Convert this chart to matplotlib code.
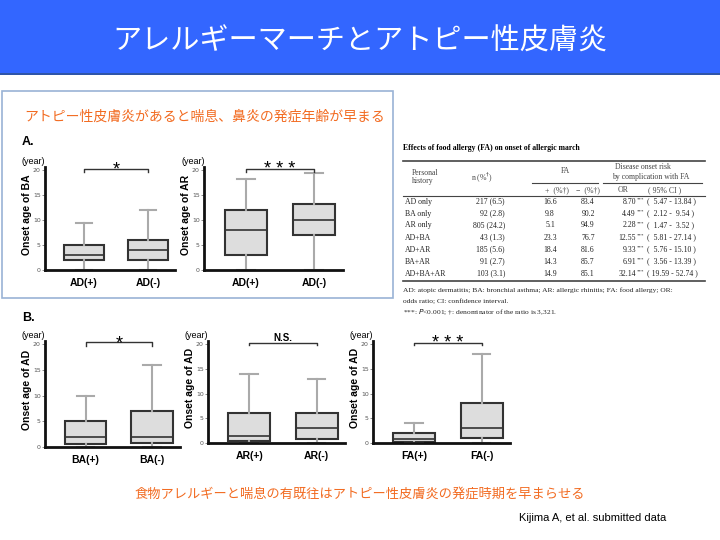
import matplotlib
matplotlib.use("Agg")
import matplotlib.pyplot as plt
from matplotlib.patches import Rectangle
from matplotlib.lines import Line2D

W, H = 720, 540
JP = ['Noto Sans CJK JP', 'DejaVu Sans']
SANS = ['Liberation Sans', 'DejaVu Sans']
SERIF = ['Liberation Serif', 'DejaVu Serif']
ORANGE = '#F26B21'

# ---- data ----
title = 'アレルギーマーチとアトピー性皮膚炎'
subtitle = 'アトピー性皮膚炎があると喘息、鼻炎の発症年齢が早まる'
conclusion = '食物アレルギーと喘息の有既往はアトピー性皮膚炎の発症時期を早まらせる'
credit = 'Kijima A, et al. submitted data'

# box stats: low whisker, q1, median, q3, high whisker
ba_labels = ['AD(+)', 'AD(-)']
ba_low = [0, 0]
ba_q1 = [2, 2]
ba_med = [3, 4]
ba_q3 = [5, 6]
ba_high = [9.5, 12]

ar_labels = ['AD(+)', 'AD(-)']
ar_low = [0, 0]
ar_q1 = [3, 7]
ar_med = [8, 10]
ar_q3 = [12, 13.2]
ar_high = [18.2, 19.4]

adba_labels = ['BA(+)', 'BA(-)']
adba_low = [0, 0]
adba_q1 = [0.5, 0.7]
adba_med = [2, 2]
adba_q3 = [5, 7]
adba_high = [10, 16]

adar_labels = ['AR(+)', 'AR(-)']
adar_low = [0, 0]
adar_q1 = [0.5, 0.8]
adar_med = [1.5, 3]
adar_q3 = [6, 6]
adar_high = [14, 13]

adfa_labels = ['FA(+)', 'FA(-)']
adfa_low = [0, 0]
adfa_q1 = [0.2, 1]
adfa_med = [0.8, 3]
adfa_q3 = [2, 8]
adfa_high = [4, 18]

# table
tbl_history = ['AD only', 'BA only', 'AR only', 'AD+BA', 'AD+AR', 'BA+AR', 'AD+BA+AR']
tbl_n = ['217 (6.5)', '92 (2.8)', '805 (24.2)', '43 (1.3)', '185 (5.6)', '91 (2.7)', '103 (3.1)']
tbl_fa_pos = [16.6, 9.8, 5.1, 23.3, 18.4, 14.3, 14.9]
tbl_fa_neg = [83.4, 90.2, 94.9, 76.7, 81.6, 85.7, 85.1]
tbl_or = [8.70, 4.49, 2.28, 12.55, 9.33, 6.91, 32.14]
tbl_ci_lo = [5.47, 2.12, 1.47, 5.81, 5.76, 3.56, 19.59]
tbl_ci_hi = [13.84, 9.54, 3.52, 27.14, 15.10, 13.39, 52.74]


def fx(x):
    return x / W


def fy(y):
    return 1 - y / H


fig = plt.figure(figsize=(7.2, 5.4), dpi=100)


def text(x, y, s, **kw):
    fig.text(fx(x), fy(y), s, **kw)


def hline(x0, x1, y, lw=0.8, color='#444444'):
    fig.add_artist(Line2D([fx(x0), fx(x1)], [fy(y), fy(y)], lw=lw, color=color))


# title bar
fig.add_artist(Rectangle((0, fy(73)), 1, 73 / H, color='#3366FF', lw=0))
fig.add_artist(Rectangle((0, fy(75)), 1, 2 / H, color='#2F55A8', lw=0))
text(360, 42, title, ha='center', va='center', color='white', fontsize=21, family=JP)

# frame around section A
fig.add_artist(Rectangle((fx(2), fy(298)), fx(391), 207 / H, fill=False,
                         edgecolor='#9AB3D5', lw=1.2))
text(205, 117, subtitle, ha='center', va='center', color=ORANGE, fontsize=10, family=JP)
text(22, 142, 'A.', ha='left', va='center', fontsize=9, weight='bold', family=SANS)
text(22, 318, 'B.', ha='left', va='center', fontsize=9, weight='bold', family=SANS)


def panel(left, right, top, bottom, labels, low, q1, med, q3, high, ylabel, sig):
    ax = fig.add_axes([fx(left), fy(bottom), (right - left) / W, (bottom - top) / H])
    stats = []
    for i in range(len(labels)):
        stats.append(dict(whislo=low[i], q1=q1[i], med=med[i], q3=q3[i], whishi=high[i]))
    ax.bxp(stats, positions=[1, 2], widths=0.62, capwidths=0.26, patch_artist=True,
           showfliers=False,
           boxprops=dict(facecolor='#dddddd', edgecolor='#333333', lw=1.5),
           whiskerprops=dict(color='#aaaaaa', lw=1.5),
           capprops=dict(color='#aaaaaa', lw=1.5),
           medianprops=dict(color='#333333', lw=1.2))
    ax.set_xlim(0.39, 2.42)
    ax.set_ylim(0, 20.0 * (bottom - top) / (bottom - top - 3))
    ax.set_yticks([0, 5, 10, 15, 20])
    ax.tick_params(axis='y', labelsize=4.5, labelcolor='#555555', length=2, width=0.6,
                   color='#777777', pad=1)
    ax.set_xticks([1, 2])
    ax.set_xticklabels(labels, fontsize=7.5, weight='bold', family=SANS)
    ax.tick_params(axis='x', length=0, pad=6)
    for s in ['top', 'right']:
        ax.spines[s].set_visible(False)
    for s in ['left', 'bottom']:
        ax.spines[s].set_linewidth(2)
        ax.spines[s].set_color('#111111')
    ax.patch.set_alpha(0)
    # significance bracket
    ax.plot([1, 1, 2, 2], [19.7, 20.3, 20.3, 19.7], color='#333333', lw=1, clip_on=False)
    if sig == 'N.S.':
        ax.text(1.5, 20.2, sig, ha='center', va='bottom', fontsize=7, weight='bold',
                family=SANS, clip_on=False)
    else:
        ax.text(1.5, 19.2, ' '.join(sig), ha='center', va='baseline', fontsize=13,
                family=SANS, clip_on=False)
    text(left - 23, top - 6, '(year)', ha='left', va='center', fontsize=6.5, family=SANS)
    text(left - 18, (top + bottom) / 2 - 4, ylabel, ha='center', va='center', rotation=90,
         fontsize=7.5, weight='bold', family=SANS)
    return ax


panel(45, 175, 167, 270, ba_labels, ba_low, ba_q1, ba_med, ba_q3, ba_high,
      'Onset age of BA', '*')
panel(204, 343, 167, 270, ar_labels, ar_low, ar_q1, ar_med, ar_q3, ar_high,
      'Onset age of AR', '***')
panel(45, 180, 341, 447, adba_labels, adba_low, adba_q1, adba_med, adba_q3, adba_high,
      'Onset age of AD', '*')
panel(208, 345, 341, 443, adar_labels, adar_low, adar_q1, adar_med, adar_q3, adar_high,
      'Onset age of AD', 'N.S.')
panel(373, 510, 341, 443, adfa_labels, adfa_low, adfa_q1, adfa_med, adfa_q3, adfa_high,
      'Onset age of AD', '***')

# table
tfs = 5.6
hkw = dict(va='center', fontsize=tfs, family=SERIF, color='#444444')
text(403, 148, 'Effects of food allergy (FA) on onset of allergic march', ha='left',
     va='center', fontsize=5.6, weight='bold', family=SERIF)
hline(403, 705, 161, lw=1.2)
text(412, 177, 'Personal\nhistory', ha='left', linespacing=1.0, **hkw)
text(482, 178, 'n (%$^{\u2020}$)', ha='center', **hkw)
text(565, 171, 'FA', ha='center', **hkw)
hline(532, 598, 183)
text(615, 167, 'Disease onset risk', ha='left', **hkw)
text(612, 177, 'by complication with FA', ha='left', **hkw)
hline(603, 702, 183)
text(557, 190, '+  (%\u2020)', ha='center', **hkw)
text(588, 190, '\u2212  (%\u2020)', ha='center', **hkw)
text(623, 190, 'OR', ha='center', **hkw)
text(648, 190, '( 95% CI )', ha='left', **hkw)
hline(403, 705, 196)
for i in range(len(tbl_history)):
    y = 201.5 + 12 * i
    kw = dict(va='center', fontsize=tfs, family=SERIF, color='#222222')
    text(405, y, tbl_history[i], ha='left', **kw)
    text(505, y, tbl_n[i], ha='right', **kw)
    text(550, y, '%.1f' % tbl_fa_pos[i], ha='center', **kw)
    text(588, y, '%.1f' % tbl_fa_neg[i], ha='center', **kw)
    text(636, y, '%.2f' % tbl_or[i], ha='right', **kw)
    text(637, y - 2.5, '***', ha='left', va='center', fontsize=3.5, family=SERIF,
         color='#222222')
    text(647, y, '( %5.2f - %5.2f )' % (tbl_ci_lo[i], tbl_ci_hi[i]), ha='left', **kw)
hline(403, 705, 281, lw=1.2)
fkw = dict(ha='left', va='center', fontsize=5.4, family=SERIF, color='#222222')
text(403, 290, 'AD: atopic dermatitis; BA: bronchial asthma; AR: allergic rhinitis; '
     'FA: food allergy; OR:', **fkw)
text(403, 301, 'odds ratio; CI: confidence interval.', **fkw)
text(403, 312, '***: $\\it{P}$<0.001; \u2020: denominator of the ratio is 3,321.', **fkw)

# bottom notes
text(360, 494, conclusion, ha='center', va='center', color=ORANGE, fontsize=9.5, family=JP)
text(519, 518, credit, ha='left', va='center', fontsize=8, family=SANS)

fig.savefig('out.png', dpi=100)
